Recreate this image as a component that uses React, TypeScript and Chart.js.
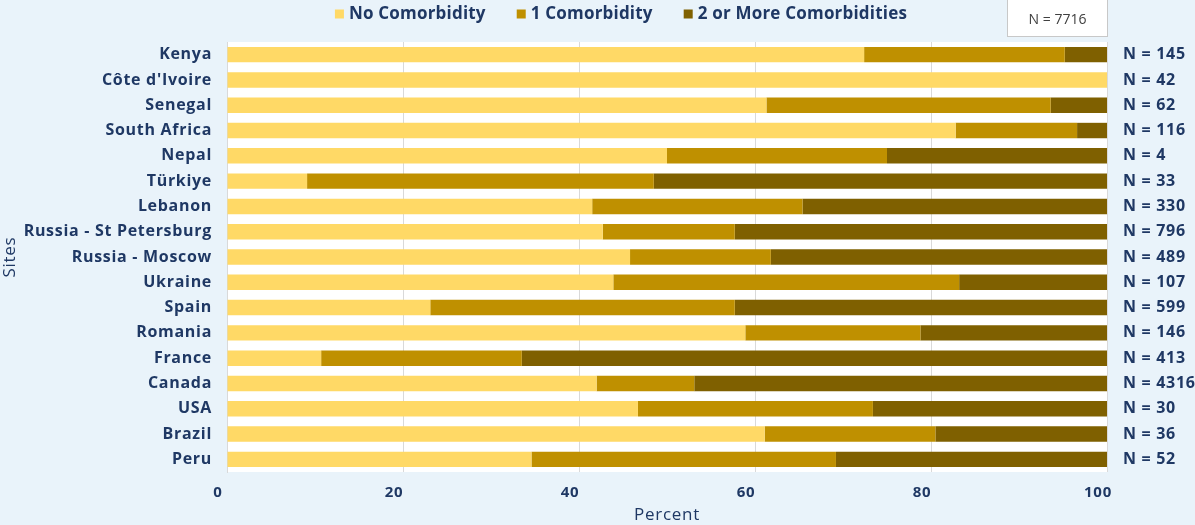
import React, { useEffect, useRef } from "react";
import { Chart, registerables } from "chart.js";

Chart.register(...registerables);

const categories = [
  "Kenya",
  "Côte d'Ivoire",
  "Senegal",
  "South Africa",
  "Nepal",
  "Türkiye",
  "Lebanon",
  "Russia - St Petersburg",
  "Russia - Moscow",
  "Ukraine",
  "Spain",
  "Romania",
  "France",
  "Canada",
  "USA",
  "Brazil",
  "Peru",
];
const noComorbidity = [72.4, 100, 61.3, 82.8, 50, 9.1, 41.5, 42.7, 45.8, 43.9, 23.1, 58.9, 10.7, 42.0, 46.7, 61.1, 34.6];
const oneComorbidity = [22.8, 0, 32.3, 13.8, 25, 39.4, 23.9, 15.0, 16.0, 39.3, 34.6, 19.9, 22.8, 11.1, 26.7, 19.4, 34.6];
const twoOrMore = [4.8, 0, 6.4, 3.4, 25, 51.5, 34.6, 42.3, 38.2, 16.8, 42.3, 21.2, 66.5, 46.9, 26.6, 19.5, 30.8];
const siteN = [145, 42, 62, 116, 4, 33, 330, 796, 489, 107, 599, 146, 413, 4316, 30, 36, 52];
const totalN = 7716;
const seriesNames = ["No Comorbidity", "1 Comorbidity", "2 or More Comorbidities"];
const seriesColors = ["#FFD966", "#BF9000", "#7F6000"];
const xTicks = [0, 20, 40, 60, 80, 100];

const NAVY = "#1F3864";
const PAGE_BG = "#E9F3FA";
const FONT = "'Open Sans', sans-serif";

const bgPlugin = {
  id: "bg",
  beforeDraw(chart: any) {
    const { ctx, chartArea } = chart;
    ctx.save();
    ctx.fillStyle = PAGE_BG;
    ctx.fillRect(0, 0, chart.width, chart.height);
    ctx.fillStyle = "#FFFFFF";
    ctx.fillRect(chartArea.left, chartArea.top, chartArea.right - chartArea.left, chartArea.bottom - chartArea.top);
    ctx.restore();
    (ctx as any).letterSpacing = "0.7px";
  },
};

const extrasPlugin = {
  id: "extras",
  afterDraw(chart: any) {
    const { ctx, chartArea } = chart;
    const yScale = chart.scales.y;
    ctx.save();
    (ctx as any).letterSpacing = "0.7px";
    // N labels per site
    ctx.font = `700 16px ${FONT}`;
    ctx.fillStyle = NAVY;
    ctx.textAlign = "left";
    ctx.textBaseline = "middle";
    siteN.forEach((n, i) => {
      const y = yScale.getPixelForValue(i);
      ctx.fillText(`N = ${n}`, chartArea.right + 16, y);
    });

    // Legend
    (ctx as any).letterSpacing = "0.2px";
    ctx.font = `700 17px ${FONT}`;
    ctx.textAlign = "left";
    const box = 9, gap = 5, itemGap = 31;
    const widths = chart.data.datasets.map((d: any) => box + gap + ctx.measureText(d.label).width);
    const total = widths.reduce((a: number, b: number) => a + b, 0) + itemGap * (widths.length - 1);
    let x = 621 - total / 2;
    const cy = 14;
    chart.data.datasets.forEach((d: any, i: number) => {
      ctx.fillStyle = d.backgroundColor;
      ctx.fillRect(x, cy - box / 2, box, box);
      ctx.fillStyle = NAVY;
      ctx.fillText(d.label, x + box + gap, cy);
      x += widths[i] + itemGap;
    });

    // Total N box
    (ctx as any).letterSpacing = "0px";
    const bx = 1007.5, by = -1.5, bw = 100, bh = 38;
    ctx.fillStyle = "#FFFFFF";
    ctx.fillRect(bx, by, bw, bh);
    ctx.strokeStyle = "#C8C8C8";
    ctx.lineWidth = 1;
    ctx.strokeRect(bx, by, bw, bh);
    ctx.fillStyle = "#404040";
    ctx.font = `400 14px ${FONT}`;
    ctx.textAlign = "center";
    ctx.fillText(`N = ${totalN}`, bx + bw / 2, 20);
    ctx.restore();
    (ctx as any).letterSpacing = "0px";
  },
};

export default function App() {
  const ref = useRef<HTMLCanvasElement | null>(null);
  useEffect(() => {
    if (!ref.current) return;
    const series = [noComorbidity, oneComorbidity, twoOrMore];
    const chart = new Chart(ref.current, {
      type: "bar",
      data: {
        labels: categories,
        datasets: series.map((data, i) => ({
          label: seriesNames[i],
          data,
          backgroundColor: seriesColors[i],
          borderWidth: 0,
          barPercentage: 0.61,
          categoryPercentage: 1,
        })),
      },
      options: {
        indexAxis: "y",
        responsive: false,
        animation: false,
        layout: { padding: { top: 42, right: 88, left: 0, bottom: 0 } },
        plugins: { legend: { display: false }, tooltip: { enabled: false } },
        scales: {
          x: {
            stacked: true,
            min: 0,
            max: 100,
            afterBuildTicks: (scale: any) => {
              scale.ticks = xTicks.map((v) => ({ value: v }));
            },
            grid: { color: "#D9D9D9", drawTicks: false },
            border: { display: false },
            ticks: { padding: 12, labelOffset: -9, color: NAVY, font: { family: FONT, size: 15, weight: "700" } },
            title: {
              display: true,
              text: "Percent",
              color: NAVY,
              font: { family: FONT, size: 17, weight: "400" },
              padding: { top: 0, bottom: 0 },
            },
            afterFit: (scale: any) => {
              scale.height = 53;
            },
          },
          y: {
            stacked: true,
            grid: { display: false, drawTicks: false },
            border: { display: true, color: "#D9D9D9" },
            ticks: { padding: 15, color: NAVY, font: { family: FONT, size: 16, weight: "700" } },
            title: {
              display: true,
              text: "Sites",
              color: NAVY,
              font: { family: FONT, size: 17, weight: "400" },
              padding: { top: 0, bottom: 0 },
            },
            afterFit: (scale: any) => {
              scale.width = 227;
            },
          },
        },
      },
      plugins: [bgPlugin, extrasPlugin],
    } as any);
    return () => chart.destroy();
  }, []);
  return (
    <div style={{ position: "fixed", left: 0, top: 0, width: 1195, height: 525, background: PAGE_BG }}>
      <canvas ref={ref} width={1195} height={525} style={{ width: 1195, height: 525, display: "block" }} />
    </div>
  );
}
